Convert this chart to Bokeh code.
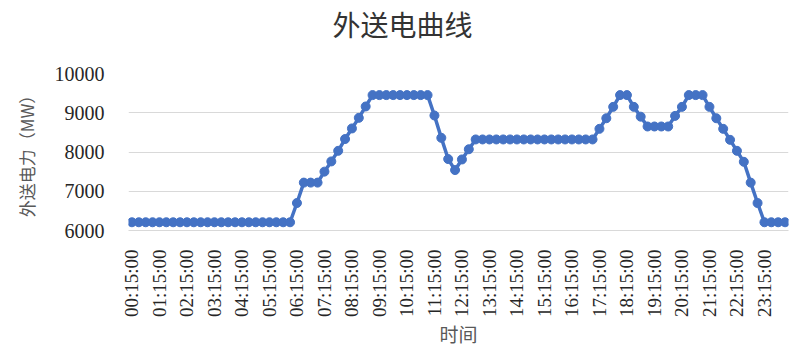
from bokeh.plotting import figure
from bokeh.models import FixedTicker, Range1d, ColumnDataSource, LinearAxis
from bokeh.embed import file_html
from bokeh.resources import INLINE

# Hourly tick labels (every 4th 15-minute slot)
tick_labels = ["00:15:00", "01:15:00", "02:15:00", "03:15:00", "04:15:00", "05:15:00",
               "06:15:00", "07:15:00", "08:15:00", "09:15:00", "10:15:00", "11:15:00",
               "12:15:00", "13:15:00", "14:15:00", "15:15:00", "16:15:00", "17:15:00",
               "18:15:00", "19:15:00", "20:15:00", "21:15:00", "22:15:00", "23:15:00"]

# 96 quarter-hour values, 00:15 .. 24:00 (MW)
power_mw = [6210, 6210, 6210, 6210, 6210, 6210, 6210, 6210, 6210, 6210, 6210, 6210,
            6210, 6210, 6210, 6210, 6210, 6210, 6210, 6210, 6210, 6210, 6210, 6210,
            6700, 7220, 7220, 7220, 7500, 7760, 8030, 8330, 8600, 8870, 9160,
            9450, 9450, 9450, 9450, 9450, 9450, 9450, 9450, 9450,
            8930, 8360, 7820, 7540, 7810, 8070,
            8320, 8320, 8320, 8320, 8320, 8320, 8320, 8320, 8320, 8320, 8320, 8320,
            8320, 8320, 8320, 8320, 8320, 8320,
            8590, 8860, 9150, 9450, 9450, 9150, 8900,
            8650, 8650, 8650, 8650,
            8920, 9150, 9450, 9450, 9450,
            9150, 8860, 8590, 8310, 8030, 7750, 7220, 6700,
            6210, 6210, 6210, 6210]

y_ticks = [6000, 7000, 8000, 9000, 10000]
chart_title = "外送电曲线"

slot = list(range(len(power_mw)))
src = ColumnDataSource(data=dict(slot=slot, power=power_mw))

p = figure(width=800, height=352, output_backend="svg", toolbar_location=None,
           x_range=Range1d(-0.5, len(power_mw) - 0.5), y_range=Range1d(y_ticks[0], y_ticks[-1]),
           min_border_left=128, min_border_right=12, min_border_top=71, min_border_bottom=122)

# Main (bottom) x axis
xa = p.below[0]
xa.ticker = FixedTicker(ticks=[i * 4 for i in range(len(tick_labels))])
xa.major_label_overrides = {i * 4: lab for i, lab in enumerate(tick_labels)}
xa.major_label_orientation = 1.5707963267948966
xa.major_label_text_font = "Liberation Serif"
xa.major_label_text_font_size = "19px"
xa.major_label_text_color = "#262626"
xa.major_label_standoff = 13
xa.major_tick_line_color = None
xa.minor_tick_line_color = None
xa.axis_line_color = "#d9d9d9"
xa.axis_label = "时间"
xa.axis_label_text_font = "Noto Sans CJK SC"
xa.axis_label_text_font_size = "19px"
xa.axis_label_text_font_style = "normal"
xa.axis_label_text_color = "#595959"
xa.axis_label_standoff = 0

# Title drawn as the single label of a bare axis above the frame,
# on a pixel-like helper range so it can sit centred over the whole canvas.
p.extra_x_ranges = {"title_pos": Range1d(0, 660)}
title_axis = LinearAxis(x_range_name="title_pos", ticker=FixedTicker(ticks=[274]),
                        major_label_overrides={274: chart_title})
title_axis.axis_line_color = None
title_axis.major_tick_line_color = None
title_axis.minor_tick_line_color = None
title_axis.major_label_standoff = 24
title_axis.major_label_text_font = "Noto Sans CJK SC"
title_axis.major_label_text_font_size = "28px"
title_axis.major_label_text_color = "#333333"
p.add_layout(title_axis, "above")

p.outline_line_color = None
p.background_fill_color = "white"
p.border_fill_color = "white"

p.line(x="slot", y="power", source=src, line_color="#4472C4", line_width=3.5)
p.scatter(x="slot", y="power", source=src, size=9, fill_color="#4472C4", line_color="#4472C4")

# Y axis
p.yaxis.ticker = FixedTicker(ticks=y_ticks)
p.yaxis.major_label_text_font = "Liberation Serif"
p.yaxis.major_label_text_font_size = "20px"
p.yaxis.major_label_text_color = "#262626"
p.yaxis.major_label_standoff = 18
p.yaxis.major_tick_line_color = None
p.yaxis.minor_tick_line_color = None
p.yaxis.axis_line_color = None
p.yaxis.axis_label = "外送电力（MW）"
p.yaxis.axis_label_text_font = "Noto Sans CJK SC"
p.yaxis.axis_label_text_font_size = "17px"
p.yaxis.axis_label_text_font_style = "normal"
p.yaxis.axis_label_text_color = "#595959"
p.yaxis.axis_label_standoff = 13

p.xgrid.visible = False
p.ygrid.grid_line_color = "#d9d9d9"
p.ygrid.grid_line_width = 1

open("out.html", "w").write(file_html(p, INLINE))
